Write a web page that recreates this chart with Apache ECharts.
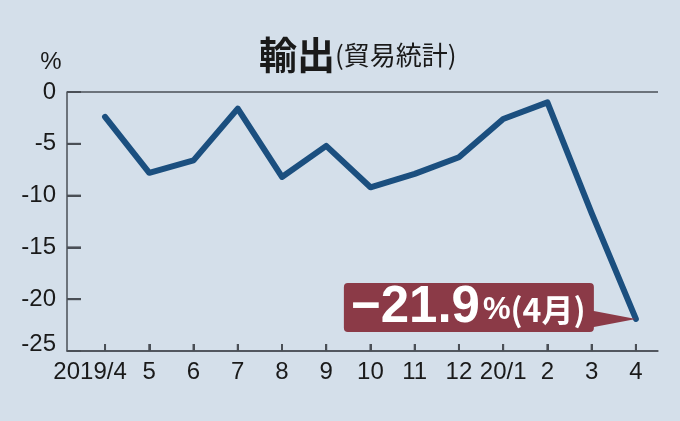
<!DOCTYPE html>
<html>
<head>
    <meta charset="utf-8">
    <script src="https://cdn.jsdelivr.net/npm/echarts@6/dist/echarts.min.js"></script>
    <style type="text/css">
        html, body { margin: 0; padding: 0; background: #d4dfea; }
        #main { width: 680px; height: 421px; }
    </style>
</head>
<body>
    <div id="main"></div>
    <script>
        // 輸出（前年同月比, %）
        const months = ['2019/4', '5', '6', '7', '8', '9', '10', '11', '12', '20/1', '2', '3', '4'];
        const exportsYoY = [-2.4, -7.8, -6.6, -1.6, -8.2, -5.2, -9.2, -7.9, -6.3, -2.6, -1.0, -11.7, -21.9];
        const yTicks = [0, -5, -10, -15, -20, -25];
        const calloutMonth = '4月';

        const sans = "'Liberation Sans', Arial, sans-serif";
        const jp = "'Noto Sans CJK JP', sans-serif";
        const ink = '#1a1a1a';
        const axisGray = '#4a4f56';

        const xMin = -0.86, xMax = 12.5;
        const yMin = -25, yMax = 0;
        const lastIdx = exportsYoY.length - 1;
        const lastVal = exportsYoY[lastIdx];

        // 目盛り線（軸の内側）: [x, y, 0=横軸 / 1=縦軸]
        const tickData = months.map((m, i) => [i, yMin, 0])
            .concat(yTicks.filter(v => v > yMin && v < yMax).map(v => [xMin, v, 1]));

        // 吹き出しの形（右へ伸びる三角の先がデータ点）
        const bubble = 'path://M4 0 H246 Q250 0 250 4 V28 L292 36 L250 44 V45 Q250 49 246 49 H4 Q0 49 0 45 V4 Q0 0 4 0 Z';

        const myChart = echarts.init(document.getElementById('main'));
        myChart.setOption({
            animation: false,
            title: {
                text: '{a|輸出}{b|(貿易統計)}',
                left: 254,
                top: 31,
                textStyle: {
                    rich: {
                        a: { fontFamily: jp, fontSize: 38, fontWeight: 'bold', color: ink, verticalAlign: 'middle' },
                        b: { fontFamily: jp, fontSize: 26, fontWeight: 'normal', color: ink, verticalAlign: 'middle' }
                    }
                }
            },
            grid: { left: 67, right: 22, top: 92, bottom: 70 },
            xAxis: {
                type: 'value',
                min: xMin,
                max: xMax,
                axisLine: { show: true, onZero: false, lineStyle: { color: axisGray, width: 1.5 } },
                axisTick: {
                    show: true, inside: true, length: 7,
                    customValues: months.map((m, i) => i),
                    lineStyle: { color: axisGray, width: 2 }
                },
                axisLabel: {
                    customValues: months.map((m, i) => i),
                    formatter: v => v === 0 ? '{first|' + months[0] + '}' : months[Math.round(v)],
                    showMinLabel: true,
                    showMaxLabel: true,
                    hideOverlap: false,
                    fontFamily: sans, fontSize: 24, color: ink, margin: 9,
                    rich: { first: { fontFamily: sans, fontSize: 24, color: ink, padding: [0, 30, 0, 0] } }
                },
                splitLine: { show: false }
            },
            yAxis: [{
                type: 'value',
                min: yMin,
                max: yMax,
                interval: 5,
                name: '%',
                nameLocation: 'end',
                nameGap: 18,
                nameTextStyle: { fontFamily: sans, fontSize: 24, color: ink, padding: [0, 32, 0, 0] },
                axisLine: { show: true, onZero: false, lineStyle: { color: axisGray, width: 1.5 } },
                axisTick: { show: true, inside: true, length: 14, lineStyle: { color: axisGray, width: 2 } },
                axisLabel: {
                    fontFamily: sans, fontSize: 24, color: ink, margin: 11,
                    formatter: v => v === -25 ? '{up|' + v + '}' : String(v),
                    rich: { up: { fontFamily: sans, fontSize: 24, color: ink, padding: [0, 0, 14, 0] } }
                },
                splitLine: { show: false }
            }, {
                // 上端の横線だけを引くための補助軸
                type: 'value',
                position: 'right',
                min: yMin,
                max: yMax,
                interval: 25,
                axisLine: { show: false },
                axisTick: { show: false },
                axisLabel: { show: false },
                splitLine: { show: true, lineStyle: { color: axisGray, width: 1.5 } }
            }],
            series: [{
                type: 'custom',
                silent: true,
                z: 5,
                data: tickData,
                renderItem: (params, api) => {
                    const p = api.coord([api.value(0), api.value(1)]);
                    const vertical = api.value(2) === 0;
                    return {
                        type: 'line',
                        shape: vertical
                            ? { x1: p[0], y1: p[1], x2: p[0], y2: p[1] - 7 }
                            : { x1: p[0], y1: p[1], x2: p[0] + 14, y2: p[1] },
                        style: { stroke: axisGray, lineWidth: 2 }
                    };
                }
            }, {
                type: 'line',
                data: exportsYoY.map((v, i) => [i, v]),
                symbol: 'none',
                lineStyle: { color: '#1b4f7f', width: 6, cap: 'round', join: 'round' },
                markPoint: {
                    symbol: bubble,
                    symbolSize: [292, 49],
                    symbolOffset: [-146, -11.5],
                    itemStyle: { color: '#8b3a47' },
                    label: {
                        show: true,
                        position: [7, 25],
                        align: 'left',
                        verticalAlign: 'middle',
                        formatter: '{a|' + String(lastVal).replace('-', '−') + '}{b|%}{c|(' + calloutMonth + ')}',
                        rich: {
                            a: { fontFamily: sans, fontSize: 51, fontWeight: 'bold', color: '#fff' },
                            b: { fontFamily: sans, fontSize: 31, fontWeight: 'bold', color: '#fff', padding: [6, 0, 0, 3] },
                            c: { fontFamily: jp, fontSize: 32, fontWeight: 'bold', color: '#fff', padding: [4, 0, 0, 0] }
                        }
                    },
                    data: [{ coord: [lastIdx, lastVal] }]
                }
            }]
        });
    </script>
</body>
</html>
